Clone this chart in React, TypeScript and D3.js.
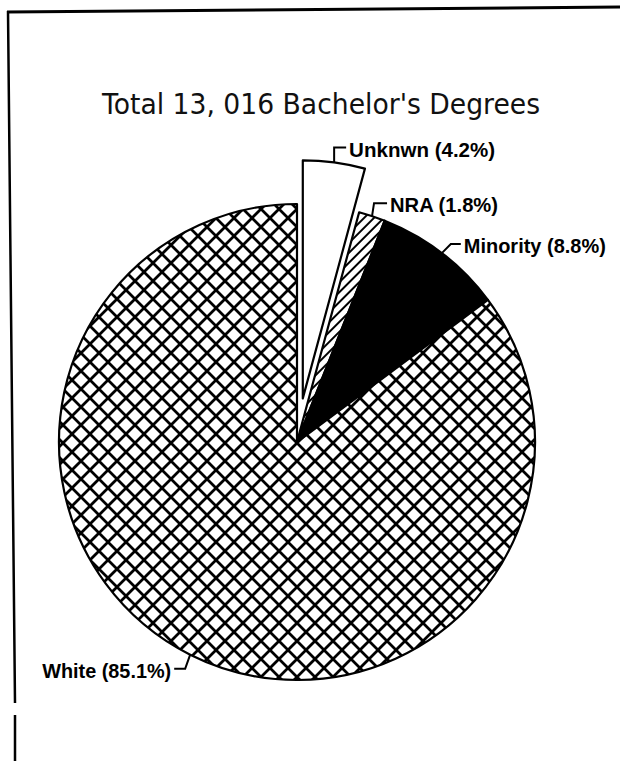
import React, { useRef, useEffect } from "react";
import { select, pie, arc } from "d3";

// data
const TITLE = "Total 13, 016 Bachelor's Degrees";
const CATEGORIES = ["Unknwn", "NRA", "Minority", "White"];
const PERCENTS = [4.2, 1.8, 8.8, 85.1];
const LABELS = CATEGORIES.map((c, i) => `${c} (${PERCENTS[i]}%)`);

const W = 620;
const H = 761;
const CX = 297;
const CY = 442;
const R = 238;
const EXPLODE = 44; // only the Unknown slice is pulled out

// leader line bends (relative to the point on the rim) + text width
const LEADERS: Record<string, { pts: [number, number][]; anchor: string; width: number }> = {
  Unknwn: { pts: [[0, 0], [0, -15], [12, -15]], anchor: "start", width: 146 },
  NRA: { pts: [[0, 0], [2, -13], [15, -13]], anchor: "start", width: 108 },
  Minority: { pts: [[0, 0], [9, -9], [19, -9]], anchor: "start", width: 142 },
  White: { pts: [[0, 0], [-5, 14], [-16, 14]], anchor: "end", width: 129 },
};

function PieChart() {
  const svgRef = useRef<SVGSVGElement>(null);

  useEffect(() => {
    const svg = select(svgRef.current);
    svg.selectAll("*").remove();

    const defs = svg.append("defs");

    // diamond crosshatch for White
    const cross = defs.append("pattern")
      .attr("id", "cross")
      .attr("patternUnits", "userSpaceOnUse")
      .attr("width", 18)
      .attr("height", 18)
      .attr("x", CX)
      .attr("y", CY);
    cross.append("rect").attr("width", 18).attr("height", 18).attr("fill", "#fff");
    cross.append("path")
      .attr("d", "M-2,-2L20,20M20,-2L-2,20")
      .attr("stroke", "#000")
      .attr("stroke-width", 2.8);

    // diagonal stripes for NRA
    const stripes = defs.append("pattern")
      .attr("id", "stripes")
      .attr("patternUnits", "userSpaceOnUse")
      .attr("width", 7)
      .attr("height", 7)
      .attr("patternTransform", "rotate(45)");
    stripes.append("rect").attr("width", 7).attr("height", 7).attr("fill", "#fff");
    stripes.append("line")
      .attr("x1", 1).attr("y1", 0).attr("x2", 1).attr("y2", 7)
      .attr("stroke", "#000")
      .attr("stroke-width", 2);

    const fillFor: Record<string, string> = {
      Unknwn: "#fff",
      NRA: "url(#stripes)",
      Minority: "#000",
      White: "url(#cross)",
    };

    // frame from the scanned page
    svg.append("path")
      .attr("d", "M7,12L620,7")
      .attr("stroke", "#000").attr("stroke-width", 3).attr("fill", "none");
    svg.append("path")
      .attr("d", "M8,11L15,703M15,715L15,761")
      .attr("stroke", "#000").attr("stroke-width", 2.5).attr("fill", "none");

    svg.append("text")
      .attr("x", 102)
      .attr("y", 114)
      .attr("textLength", 438)
      .attr("lengthAdjust", "spacingAndGlyphs")
      .attr("font-family", "DejaVu Sans, sans-serif")
      .attr("font-size", 29)
      .attr("fill", "#111")
      .text(TITLE);

    const slices = pie<number>().sort(null).startAngle(0).endAngle(2 * Math.PI)(PERCENTS);
    const slice = arc<any>().innerRadius(0).outerRadius(R);

    const g = svg.append("g").attr("transform", `translate(${CX},${CY})`);

    slices.forEach((s, i) => {
      const cat = CATEGORIES[i];
      const mid = (s.startAngle + s.endAngle) / 2;
      const off = cat === "Unknwn" ? EXPLODE : 0;
      const ox = Math.sin(mid) * off;
      const oy = -Math.cos(mid) * off;

      g.append("path")
        .attr("d", slice(s))
        .attr("transform", `translate(${ox},${oy})`)
        .attr("fill", fillFor[cat])
        .attr("stroke", "#000")
        .attr("stroke-width", 2.2)
        .attr("stroke-linejoin", "round");

      // leader line starts on the rim at the middle of the slice
      const ax = Math.sin(mid) * (R + off);
      const ay = -Math.cos(mid) * (R + off);
      const lead = LEADERS[cat];
      const pts = lead.pts.map(([dx, dy]) => [ax + dx, ay + dy]);
      g.append("path")
        .attr("d", "M" + pts.map((p) => p.join(",")).join("L"))
        .attr("fill", "none")
        .attr("stroke", "#000")
        .attr("stroke-width", 2);

      const last = pts[pts.length - 1];
      const tx = lead.anchor === "start" ? last[0] + 3 : last[0] - 3;
      g.append("text")
        .attr("x", tx)
        .attr("y", last[1] + 2)
        .attr("dy", "0.36em")
        .attr("text-anchor", lead.anchor)
        .attr("textLength", lead.width)
        .attr("lengthAdjust", "spacingAndGlyphs")
        .attr("font-family", "Liberation Sans Narrow, Arial Narrow, Liberation Sans, sans-serif")
        .attr("font-weight", "bold")
        .attr("font-size", 20)
        .attr("fill", "#000")
        .text(LABELS[i]);
    });
  }, []);

  return (
    <svg
      ref={svgRef}
      width={W}
      height={H}
      style={{ position: "absolute", left: 0, top: 0, background: "#fff" }}
    />
  );
}

function App() {
  return <PieChart />;
}

export default App;
